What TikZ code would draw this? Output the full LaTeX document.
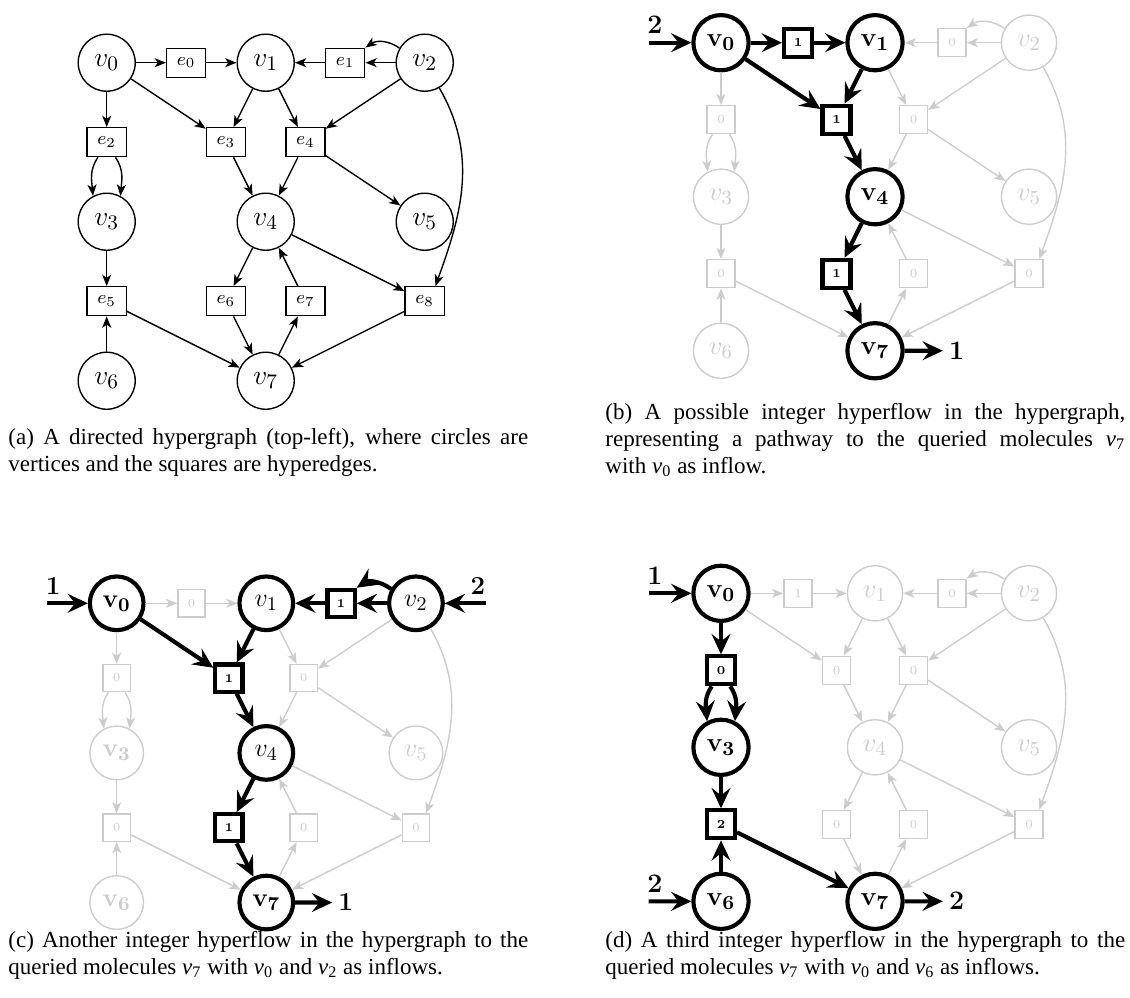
\documentclass[tikz,border=0pt]{standalone}
\usepackage[no-math]{fontspec}
\newfontfamily\capfont{Liberation Serif}
\usetikzlibrary{arrows.meta}

\tikzset{
  mol/.style={circle, draw, fill=white, minimum size=24.8pt, inner sep=0pt, line width=0.6pt, font=\fontsize{12.5}{14}\selectfont},
  rxn/.style={rectangle, draw, fill=white, minimum width=12.6pt, minimum height=12.6pt, inner sep=1pt, line width=0.6pt, font=\fontsize{5.5}{6}\selectfont},
  rxnlab/.style={rxn, minimum width=17pt, font=\fontsize{8}{10}\selectfont},
  faded/.style={draw=black!20, text=black!20},
  lit/.style={line width=1.8pt},
  link/.style={-{Stealth[length=4.9pt,width=3.9pt,inset=1.3pt]}, line width=0.6pt},
  fadedlink/.style={link, draw=black!20},
  flowlink/.style={-{Stealth[length=8.8pt,width=8.2pt,inset=3.2pt]}, line width=1.8pt},
  flownum/.style={inner sep=0pt, font=\fontsize{11.5}{13}\selectfont},
  caption/.style={anchor=north west, inner sep=0pt, text width=226pt, align=justify, font=\capfont\fontsize{10}{11.6}\selectfont},
  panel/.style={x=34.57pt, y=-34.57pt, every node/.append style={transform shape}}
}

% slots of vertices and hyperedges (grid units)
\newcommand\hgrid{%
  \foreach \n/\c/\r in {v0/0/0, e0/1/0, v1/2/0, e1/3/0, v2/4/0, e2/0/1, e3/1.5/1, e4/2.5/1,
      v3/0/2, v4/2/2, v5/4/2, e5/0/3, e6/1.5/3, e7/2.5/3, e8/4/3, v6/0/4, v7/2/4}
    \coordinate (\n) at (\c,\r);}
% the bent connectors: e2 -> 2 v3, 2 v2 -> e1, v2 -> e8
\newcommand\splitarcs[2]{%
  \draw[#2] (#1e2.-120) to[out=-125,in=95] (#1v3.118);
  \draw[#2] (#1e2.-60) to[out=-55,in=85] (#1v3.62);}
\newcommand\looparc[2]{\draw[#2] (#1v2.150) to[bend right=35] (#1e1.north east);}
\newcommand\longarc[2]{\draw[#2] (#1v2.-60) to[out=-60,in=70] (#1e8.55);}
\newcommand\capv[1]{\textit{v}\textsubscript{#1}}

\begin{document}
\begin{tikzpicture}[x=0.4348pt, y=-0.4348pt]
\useasboundingbox (0,0) rectangle (1130,998);

% (a) the hypergraph
\begin{scope}[shift={(106.7,62.7)}, panel]
  \hgrid
  \foreach \i in {0,...,7} \node[mol] (av\i) at (v\i) {$v_\i$};
  \foreach \i in {0,...,8} \node[rxnlab] (ae\i) at (e\i) {$e_\i$};
  \foreach \a/\b in {v0/e0, e0/v1, e1/v1, v2/e1, v0/e2, v0/e3, v1/e3, v1/e4, v2/e4, e3/v4, e4/v4, e4/v5,
      v3/e5, v6/e5, e5/v7, v4/e6, e6/v7, v7/e7, e7/v4, v4/e8, e8/v7}
    \draw[link] (a\a) -- (a\b);
  \splitarcs{a}{link}
  \looparc{a}{link}
  \longarc{a}{link}
\end{scope}

% (b) flow through e0, e3, e6
\begin{scope}[shift={(721,42.7)}, panel, scale=0.9686]
  \hgrid
  \foreach \n/\t in {v0/\mathbf{v_0}, v1/\mathbf{v_1}, v4/\mathbf{v_4}, v7/\mathbf{v_7}} \node[mol,lit] (b\n) at (\n) {$\t$};
  \foreach \n/\t in {v2/v_2, v3/v_3, v5/v_5, v6/v_6} \node[mol,faded] (b\n) at (\n) {$\t$};
  \foreach \n in {e0,e3,e6} \node[rxn,lit] (b\n) at (\n) {\textbf{1}};
  \foreach \n in {e1,e2,e4,e5,e7,e8} \node[rxn,faded] (b\n) at (\n) {0};
  \foreach \a/\b in {v2/e1, e1/v1, v0/e2, v1/e4, v2/e4, e4/v4, e4/v5, v3/e5, v6/e5, e5/v7, v7/e7, e7/v4, v4/e8, e8/v7}
    \draw[fadedlink] (b\a) -- (b\b);
  \splitarcs{b}{fadedlink}
  \looparc{b}{fadedlink}
  \longarc{b}{fadedlink}
  \foreach \a/\b in {v0/e0, e0/v1, v0/e3, v1/e3, e3/v4, v4/e6, e6/v7}
    \draw[flowlink] (b\a) -- (b\b);
  \coordinate (bin) at (-0.94,0);
  \coordinate (bout) at (2.88,4);
  \draw[flowlink] (bin) -- (bv0);
  \draw[flowlink] (bv7) -- (bout);
  \node[flownum] (bnin) at (-0.86,-0.23) {$\mathbf{2}$};
  \node[flownum] (bnout) at (3.06,4) {$\mathbf{1}$};
\end{scope}

% (c) flow with v0 and v2 feeding in
\begin{scope}[shift={(116.7,603.3)}, panel, scale=0.9409]
  \hgrid
  \foreach \n/\t in {v0/\mathbf{v_0}, v1/v_1, v2/v_2, v4/v_4, v7/\mathbf{v_7}} \node[mol,lit] (c\n) at (\n) {$\t$};
  \foreach \n/\t in {v3/\mathbf{v_3}, v5/v_5, v6/\mathbf{v_6}} \node[mol,faded] (c\n) at (\n) {$\t$};
  \foreach \n in {e1,e3,e6} \node[rxn,lit] (c\n) at (\n) {\textbf{1}};
  \foreach \n in {e0,e2,e4,e5,e7,e8} \node[rxn,faded] (c\n) at (\n) {0};
  \foreach \a/\b in {v0/e0, e0/v1, v0/e2, v1/e4, v2/e4, e4/v4, e4/v5, v3/e5, v6/e5, e5/v7, v7/e7, e7/v4, v4/e8, e8/v7}
    \draw[fadedlink] (c\a) -- (c\b);
  \splitarcs{c}{fadedlink}
  \longarc{c}{fadedlink}
  \foreach \a/\b in {v2/e1, e1/v1, v0/e3, v1/e3, e3/v4, v4/e6, e6/v7}
    \draw[flowlink] (c\a) -- (c\b);
  \looparc{c}{flowlink}
  \coordinate (cin) at (-0.93,0);
  \coordinate (cin2) at (4.94,0);
  \coordinate (cout) at (2.88,4);
  \draw[flowlink] (cin) -- (cv0);
  \draw[flowlink] (cin2) -- (cv2);
  \draw[flowlink] (cv7) -- (cout);
  \node[flownum] (cnin) at (-0.85,-0.23) {$\mathbf{1}$};
  \node[flownum] (cnin2) at (4.83,-0.23) {$\mathbf{2}$};
  \node[flownum] (cnout) at (3.06,4) {$\mathbf{1}$};
\end{scope}

% (d) flow with v0 and v6 feeding in
\begin{scope}[shift={(721,593.3)}, panel, scale=0.9686]
  \hgrid
  \foreach \n/\t in {v0/\mathbf{v_0}, v3/\mathbf{v_3}, v6/\mathbf{v_6}, v7/\mathbf{v_7}} \node[mol,lit] (d\n) at (\n) {$\t$};
  \foreach \n/\t in {v1/v_1, v2/v_2, v4/v_4, v5/v_5} \node[mol,faded] (d\n) at (\n) {$\t$};
  \node[rxn,lit] (de2) at (e2) {\textbf{0}};
  \node[rxn,lit] (de5) at (e5) {\textbf{2}};
  \node[rxn,faded] (de0) at (e0) {1};
  \foreach \n in {e1,e3,e4,e6,e7,e8} \node[rxn,faded] (d\n) at (\n) {0};
  \foreach \a/\b in {v0/e0, e0/v1, v2/e1, e1/v1, v0/e3, v1/e3, v1/e4, v2/e4, e3/v4, e4/v4, e4/v5,
      v4/e6, e6/v7, v7/e7, e7/v4, v4/e8, e8/v7}
    \draw[fadedlink] (d\a) -- (d\b);
  \looparc{d}{fadedlink}
  \longarc{d}{fadedlink}
  \foreach \a/\b in {v0/e2, v3/e5, v6/e5, e5/v7}
    \draw[flowlink] (d\a) -- (d\b);
  \splitarcs{d}{flowlink}
  \coordinate (din) at (-0.94,0);
  \coordinate (din6) at (-0.94,4);
  \coordinate (dout) at (2.88,4);
  \draw[flowlink] (din) -- (dv0);
  \draw[flowlink] (din6) -- (dv6);
  \draw[flowlink] (dv7) -- (dout);
  \node[flownum] (dnin) at (-0.86,-0.23) {$\mathbf{1}$};
  \node[flownum] (dnin6) at (-0.86,3.77) {$\mathbf{2}$};
  \node[flownum] (dnout) at (3.06,4) {$\mathbf{2}$};
\end{scope}

% captions
\node[caption] (capa) at (8,428) {(a) A directed hypergraph (top-left), where circles are vertices and the squares are hyperedges.};
\node[caption] (capb) at (605,403) {(b) A possible integer hyperflow in the hypergraph,\linebreak representing a pathway to the queried molecules \capv{7}\linebreak with \capv{0} as inflow.};
\node[caption] (capc) at (8,931) {(c) Another integer hyperflow in the hypergraph to the queried molecules \capv{7} with \capv{0} and \capv{2} as inflows.};
\node[caption] (capd) at (605,931) {(d) A third integer hyperflow in the hypergraph to the queried molecules \capv{7} with \capv{0} and \capv{6} as inflows.};
\end{tikzpicture}
\end{document}
